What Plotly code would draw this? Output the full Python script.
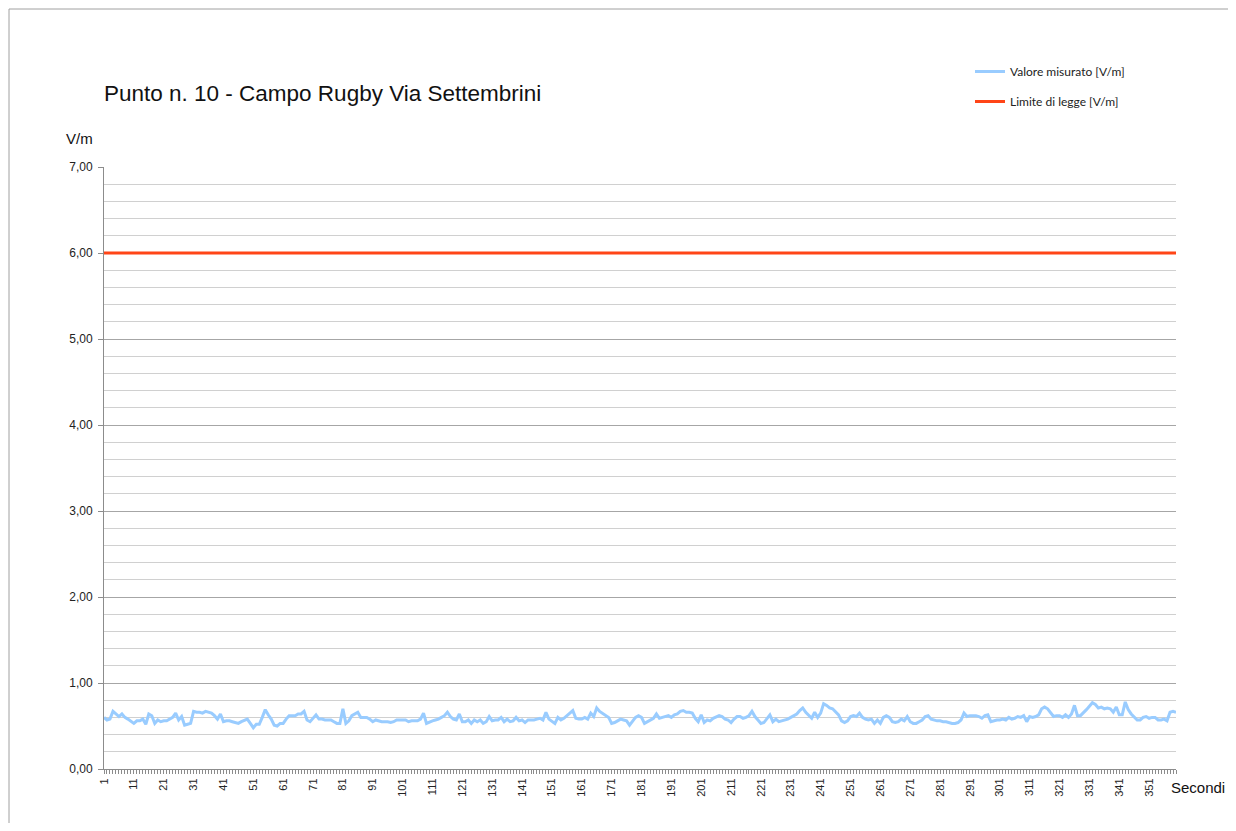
import plotly.graph_objects as go

# seconds on the x axis
seconds = list(range(1, 361))

measured_1_120 = [
    0.60, 0.57, 0.58, 0.67, 0.64, 0.61, 0.64, 0.60, 0.58, 0.55,
    0.53, 0.56, 0.56, 0.58, 0.52, 0.64, 0.62, 0.53, 0.57, 0.55,
    0.56, 0.56, 0.58, 0.60, 0.65, 0.57, 0.61, 0.51, 0.52, 0.53,
    0.67, 0.66, 0.66, 0.65, 0.67, 0.66, 0.65, 0.62, 0.58, 0.64,
    0.55, 0.56, 0.56, 0.55, 0.54, 0.53, 0.55, 0.57, 0.58, 0.53,
    0.48, 0.52, 0.52, 0.60, 0.69, 0.63, 0.58, 0.51, 0.50, 0.53,
    0.53, 0.58, 0.62, 0.62, 0.62, 0.64, 0.64, 0.67, 0.57, 0.55,
    0.59, 0.63, 0.58, 0.58, 0.57, 0.57, 0.57, 0.55, 0.53, 0.53,
    0.70, 0.53, 0.56, 0.62, 0.64, 0.66, 0.60, 0.60, 0.60, 0.58,
    0.55, 0.57, 0.56, 0.55, 0.55, 0.55, 0.54, 0.55, 0.57, 0.57,
    0.57, 0.57, 0.55, 0.56, 0.56, 0.56, 0.58, 0.65, 0.53, 0.55,
    0.56, 0.57, 0.58, 0.60, 0.62, 0.66, 0.61, 0.58, 0.57, 0.64,
]
measured_121_240 = [
    0.55, 0.55, 0.57, 0.53, 0.57, 0.55, 0.57, 0.53, 0.55, 0.61,
    0.56, 0.57, 0.57, 0.60, 0.55, 0.58, 0.55, 0.56, 0.60, 0.56,
    0.57, 0.54, 0.57, 0.57, 0.57, 0.58, 0.59, 0.57, 0.66, 0.58,
    0.55, 0.53, 0.60, 0.57, 0.59, 0.62, 0.65, 0.68, 0.59, 0.58,
    0.58, 0.60, 0.58, 0.65, 0.61, 0.71, 0.67, 0.65, 0.63, 0.60,
    0.53, 0.54, 0.56, 0.58, 0.57, 0.56, 0.51, 0.55, 0.60, 0.62,
    0.60, 0.53, 0.55, 0.57, 0.59, 0.64, 0.59, 0.60, 0.61, 0.62,
    0.60, 0.63, 0.64, 0.67, 0.68, 0.66, 0.66, 0.65, 0.59, 0.55,
    0.63, 0.54, 0.57, 0.56, 0.59, 0.61, 0.62, 0.61, 0.58, 0.57,
    0.54, 0.58, 0.61, 0.61, 0.59, 0.60, 0.62, 0.67, 0.61, 0.57,
    0.53, 0.54, 0.58, 0.63, 0.55, 0.58, 0.55, 0.56, 0.57, 0.58,
    0.60, 0.62, 0.64, 0.68, 0.71, 0.66, 0.62, 0.59, 0.66, 0.60,
]
measured_241_360 = [
    0.65, 0.76, 0.74, 0.71, 0.70, 0.66, 0.63, 0.56, 0.54, 0.56,
    0.61, 0.62, 0.61, 0.65, 0.60, 0.58, 0.57, 0.58, 0.53, 0.57,
    0.53, 0.60, 0.62, 0.60, 0.55, 0.54, 0.55, 0.58, 0.56, 0.61,
    0.55, 0.53, 0.53, 0.55, 0.57, 0.61, 0.62, 0.58, 0.57, 0.56,
    0.56, 0.55, 0.55, 0.54, 0.53, 0.53, 0.54, 0.57, 0.65, 0.61,
    0.62, 0.62, 0.62, 0.61, 0.59, 0.62, 0.63, 0.55, 0.56, 0.57,
    0.57, 0.58, 0.57, 0.60, 0.58, 0.59, 0.61, 0.60, 0.62, 0.55,
    0.61, 0.60, 0.61, 0.63, 0.70, 0.72, 0.70, 0.66, 0.61, 0.62,
    0.62, 0.60, 0.63, 0.60, 0.64, 0.74, 0.62, 0.62, 0.65, 0.69,
    0.73, 0.77, 0.75, 0.71, 0.72, 0.70, 0.71, 0.70, 0.66, 0.72,
    0.63, 0.63, 0.78, 0.69, 0.64, 0.60, 0.57, 0.57, 0.60, 0.61,
    0.59, 0.60, 0.60, 0.57, 0.57, 0.58, 0.56, 0.66, 0.67, 0.66,
]
measured = measured_1_120 + measured_121_240 + measured_241_360

# legal limit [V/m]
limit_value = 6.0
limit = [limit_value] * len(seconds)

yticks = [0, 1, 2, 3, 4, 5, 6, 7]
xticks = list(range(1, 361, 10))

font_main = "Liberation Sans, Arial, sans-serif"
axis_grey = "#8c8c8c"

# page body has an 8px margin, so the figure is sized to fit the window
W, H = 1220, 815
L, T = 96, 159
PW, PH = 1072, 602


def px_x(x):
    # page x pixel -> paper coordinate
    return (x - 8 - L) / PW


def px_y(y):
    # page y pixel -> paper coordinate
    return (T + PH - (y - 8)) / PH


fig = go.Figure()
fig.add_trace(go.Scatter(
    x=seconds, y=measured, mode="lines", name="Valore misurato [V/m]",
    line=dict(color="#99ccff", width=3), legendgroup="a",
))
fig.add_trace(go.Scatter(
    x=seconds, y=limit, mode="lines", name="Limite di legge [V/m]",
    line=dict(color="#ff4517", width=3), legendgroup="b",
))

fig.update_layout(
    width=W, height=H,
    margin=dict(l=L, r=W - L - PW, t=T, b=H - T - PH),
    paper_bgcolor="white", plot_bgcolor="white",
    separators=",.",
    font=dict(family=font_main, size=11, color="#222"),
    title=dict(
        text="Punto n. 10 - Campo Rugby Via Settembrini",
        font=dict(family=font_main, size=22.5, color="#111"),
        xref="paper", x=0, xanchor="left",
        yref="container", y=1 - (93 - 8) / H, yanchor="middle",
    ),
    legend=dict(
        x=px_x(970), y=px_y(57), xanchor="left", yanchor="top",
        font=dict(family="Lato, Open Sans, sans-serif", size=12, color="#222"),
        tracegroupgap=11, bgcolor="rgba(0,0,0,0)",
    ),
    showlegend=True,
)

fig.update_xaxes(
    range=[1, 360], tickmode="array", tickvals=xticks,
    ticktext=[str(v) for v in xticks], tickangle=-90,
    ticks="outside", ticklen=4, tickcolor=axis_grey,
    showline=True, linecolor=axis_grey, linewidth=1,
    showgrid=False, zeroline=False,
    minor=dict(tickmode="linear", tick0=1, dtick=1, ticks="outside",
               ticklen=4, tickcolor=axis_grey, showgrid=False),
    tickfont=dict(size=11, color="#222"),
)
fig.update_yaxes(
    range=[0, 7], tickmode="array", tickvals=yticks, tickformat=".2f",
    ticks="outside", ticklen=5, tickcolor=axis_grey, ticklabelstandoff=3,
    showline=True, linecolor=axis_grey, linewidth=1,
    showgrid=True, gridcolor="#a6a6a6", gridwidth=1, zeroline=False,
    minor=dict(tickmode="linear", tick0=0, dtick=0.2, showgrid=True,
               gridcolor="#d0d0d0", gridwidth=1, ticks=""),
    tickfont=dict(size=12, color="#222"),
)

fig.add_annotation(text="V/m", xref="paper", yref="paper",
                   x=px_x(95), y=px_y(139),
                   xanchor="right", yanchor="middle", showarrow=False,
                   font=dict(family=font_main, size=15, color="#111"))
fig.add_annotation(text="Secondi", xref="paper", yref="paper",
                   x=px_x(1169), y=px_y(787),
                   xanchor="left", yanchor="middle", showarrow=False,
                   font=dict(family=font_main, size=15, color="#111"))

# chart-area frame: only the left and top edges show in the window
frame = dict(color="#a0a0a0", width=1)
fig.add_shape(type="line", xref="paper", yref="paper",
              x0=px_x(9), x1=px_x(9), y0=px_y(831), y1=px_y(9),
              line=frame, layer="below")
fig.add_shape(type="line", xref="paper", yref="paper",
              x0=px_x(9), x1=px_x(1236), y0=px_y(9), y1=px_y(9),
              line=frame, layer="below")

fig.write_html("out.html")
